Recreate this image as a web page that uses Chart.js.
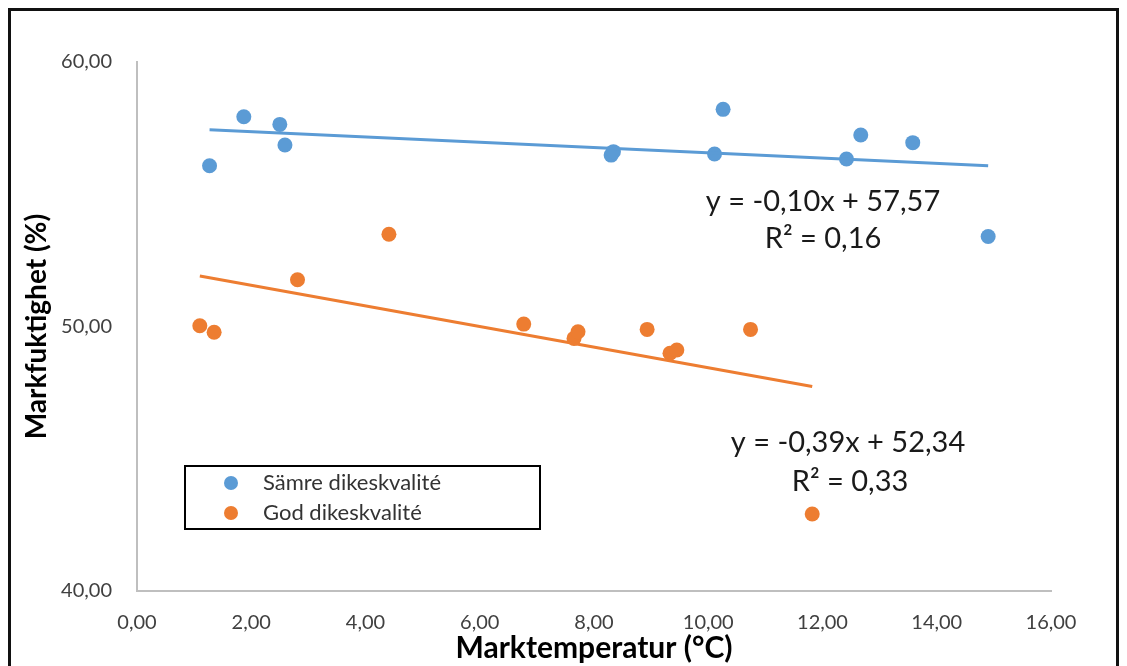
<!DOCTYPE html>
<html>
<head>
<meta charset="utf-8">
<script src="https://cdn.jsdelivr.net/npm/chart.js@4.4.1/dist/chart.umd.min.js"></script>
<style>
  html, body { margin: 0; padding: 0; background: #fff; }
</style>
</head>
<body>
<canvas id="chart" width="1127" height="666"></canvas>
<script>
// data
const seriesNames = ["Sämre dikeskvalité", "God dikeskvalité"];
const samreX = [1.27, 1.87, 2.50, 2.59, 8.30, 8.34, 10.11, 10.26, 12.42, 12.67, 13.58, 14.90];
const samreY = [56.08, 57.93, 57.64, 56.86, 56.48, 56.61, 56.52, 58.21, 56.33, 57.24, 56.95, 53.40];
const godX = [1.10, 1.35, 2.81, 4.41, 6.77, 7.65, 7.72, 8.93, 9.33, 9.45, 10.74, 11.82];
const godY = [50.03, 49.78, 51.77, 53.49, 50.09, 49.55, 49.80, 49.89, 48.99, 49.11, 49.89, 42.91];

// trendlines as given in the chart labels
const samreTrend = { slope: -0.10, intercept: 57.57 };
const godTrend = { slope: -0.39, intercept: 52.34 };
const samreEq = ["y = -0,10x + 57,57", "R² = 0,16"];
const godEq = ["y = -0,39x + 52,34", "R² = 0,33"];

const xTicks = [0, 2, 4, 6, 8, 10, 12, 14, 16];
const yTicks = [40, 50, 60];

const blue = "#5B9BD5";
const orange = "#ED7D31";

const toPoints = (xs, ys) => xs.map((x, i) => ({ x: x, y: ys[i] }));
const trendPoints = (xs, t) => {
  const lo = Math.min(...xs), hi = Math.max(...xs);
  return [{ x: lo, y: t.slope * lo + t.intercept }, { x: hi, y: t.slope * hi + t.intercept }];
};
const comma = v => v.toFixed(2).replace(".", ",");

const decor = {
  id: "decor",
  beforeDraw(chart) {
    const ctx = chart.ctx;
    ctx.save();
    ctx.fillStyle = "#fff";
    ctx.fillRect(0, 0, chart.width, chart.height);
    ctx.strokeStyle = "#111";
    ctx.lineWidth = 3;
    ctx.strokeRect(9.5, 9.5, 1108, 700);
    ctx.restore();
  },
  afterDraw(chart) {
    const ctx = chart.ctx;
    ctx.save();
    // equations
    ctx.fillStyle = "#1a1a1a";
    ctx.font = "29px Lato";
    ctx.textAlign = "center";
    ctx.textBaseline = "middle";
    ctx.fillText(samreEq[0], 823, 202);
    ctx.fillText(samreEq[1], 823, 239);
    ctx.fillText(godEq[0], 848, 443);
    ctx.fillText(godEq[1], 850, 482);

    // legend box
    ctx.strokeStyle = "#000";
    ctx.lineWidth = 2;
    ctx.strokeRect(185, 466, 355, 63);
    ctx.font = "22px Lato";
    ctx.textAlign = "left";
    ctx.fillStyle = "#333";
    [0, 1].forEach(i => {
      const ds = chart.data.datasets[i];
      const y = 483 + i * 30;
      ctx.beginPath();
      ctx.arc(231, y, 7, 0, Math.PI * 2);
      ctx.fillStyle = ds.backgroundColor;
      ctx.fill();
      ctx.fillStyle = "#333";
      ctx.fillText(ds.label, 263, y);
    });
    ctx.restore();
  }
};

new Chart(document.getElementById("chart"), {
  type: "scatter",
  data: {
    datasets: [
      {
        label: seriesNames[0],
        data: toPoints(samreX, samreY),
        backgroundColor: blue,
        borderWidth: 0,
        pointRadius: 7.5,
        order: 2
      },
      {
        label: seriesNames[1],
        data: toPoints(godX, godY),
        backgroundColor: orange,
        borderWidth: 0,
        pointRadius: 7.5,
        order: 2
      },
      {
        type: "line",
        label: "trend1",
        data: trendPoints(samreX, samreTrend),
        borderColor: blue,
        borderWidth: 3,
        pointRadius: 0,
        fill: false,
        order: 1
      },
      {
        type: "line",
        label: "trend2",
        data: trendPoints(godX, godTrend),
        borderColor: orange,
        borderWidth: 3,
        pointRadius: 0,
        fill: false,
        order: 1
      }
    ]
  },
  options: {
    responsive: false,
    animation: false,
    layout: { padding: { left: 10, top: 62, right: 76, bottom: 0 } },
    plugins: {
      legend: { display: false },
      tooltip: { enabled: false }
    },
    scales: {
      x: {
        type: "linear",
        min: 0,
        max: 16,
        afterBuildTicks: s => { s.ticks = xTicks.map(v => ({ value: v })); },
        afterFit: s => { s.height = 75; },
        grid: { display: false },
        border: { display: true, color: "#bfbfbf", width: 2 },
        ticks: {
          callback: v => comma(v),
          font: { family: "Lato", size: 20 },
          color: "#404040",
          padding: 12,
          maxRotation: 0
        },
        title: {
          display: true,
          text: "Marktemperatur (°C)",
          font: { family: "Lato", size: 30, weight: "bold" },
          color: "#000",
          padding: { top: 0, bottom: 0 }
        }
      },
      y: {
        min: 40,
        max: 60,
        afterBuildTicks: s => { s.ticks = yTicks.map(v => ({ value: v })); },
        afterFit: s => { s.width = 127; },
        grid: { display: false },
        border: { display: true, color: "#bfbfbf", width: 2 },
        ticks: {
          callback: v => comma(v),
          font: { family: "Lato", size: 20 },
          color: "#404040",
          padding: 17
        },
        title: {
          display: true,
          text: "Markfuktighet (%)",
          font: { family: "Lato", size: 28, weight: "bold" },
          color: "#000",
          padding: { top: 10, bottom: 0 }
        }
      }
    }
  },
  plugins: [decor]
});
</script>
</body>
</html>
